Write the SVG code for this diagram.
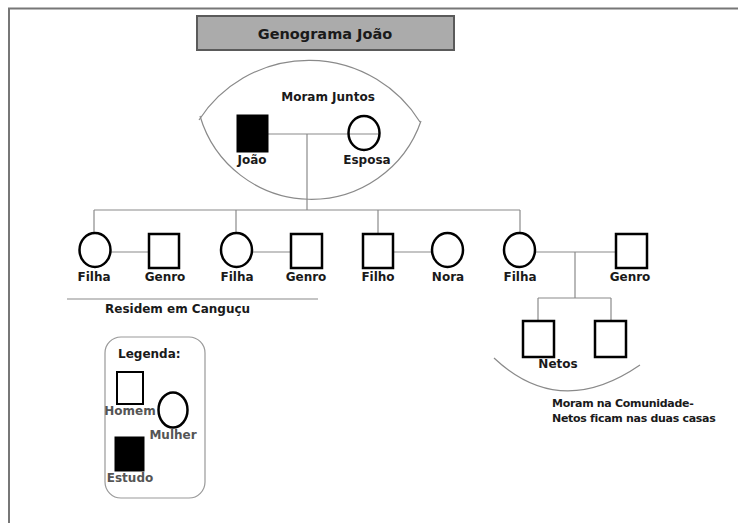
<svg xmlns="http://www.w3.org/2000/svg" width="738" height="523" viewBox="0 0 738 523">
<style>
text{font-family:"DejaVu Sans","Verdana",sans-serif;font-weight:bold;fill:#1a1a1a;font-size:12px}
.lbl{text-anchor:middle}
.leg{fill:#555;text-anchor:middle}
.note{font-size:11px;letter-spacing:-0.3px}
.ln{stroke:#8a8a8a;stroke-width:1.2;fill:none}
.sq{fill:#fff;stroke:#000;stroke-width:2.5}
.ci{fill:#fff;stroke:#000;stroke-width:2.5}
.fill{fill:#000;stroke:#000;stroke-width:1}
</style>
<rect width="738" height="523" fill="#fff"/>
<path d="M9 523 V8.5 H738" fill="none" stroke="#777" stroke-width="2"/>
<g id="title">
<rect x="197" y="16" width="257" height="34" fill="#ababab" stroke="#5a5a5a" stroke-width="2"/>
<text x="325" y="39" text-anchor="middle" style="font-size:14.5px">Genograma João</text>
</g>
<g id="connectors">
<path class="ln" d="M199 120 A131 131 0 0 1 420 122"/>
<path class="ln" d="M200 116 A116 116 0 0 0 421 121"/>
<line class="ln" x1="266" y1="134" x2="378" y2="134"/>
<line class="ln" x1="307" y1="134" x2="307" y2="210"/>
<line class="ln" x1="94" y1="210" x2="520" y2="210"/>
<line class="ln" x1="94" y1="210" x2="94" y2="233"/>
<line class="ln" x1="236" y1="210" x2="236" y2="233"/>
<line class="ln" x1="378" y1="210" x2="378" y2="233"/>
<line class="ln" x1="520" y1="210" x2="520" y2="233"/>
<line class="ln" x1="111" y1="252" x2="149" y2="252"/>
<line class="ln" x1="252" y1="252" x2="291" y2="252"/>
<line class="ln" x1="393" y1="252" x2="432" y2="252"/>
<line class="ln" x1="535" y1="252" x2="616" y2="252"/>
<line class="ln" x1="575" y1="252" x2="575" y2="298"/>
<line class="ln" x1="538" y1="298" x2="611" y2="298"/>
<line class="ln" x1="538" y1="298" x2="538" y2="321"/>
<line class="ln" x1="611" y1="298" x2="611" y2="321"/>
<line class="ln" x1="67" y1="299" x2="318" y2="299"/>
<path class="ln" d="M494 358 Q560 420 640 365"/>
</g>
<text x="328" y="101" text-anchor="middle">Moram Juntos</text>
<g id="joao">
<rect class="fill" x="237" y="115" width="31" height="37"/>
<text class="lbl" x="252" y="164">João</text>
</g>
<g id="esposa">
<ellipse class="ci" cx="364" cy="133" rx="15.5" ry="17" style="fill:none"/>
<text class="lbl" x="367" y="164">Esposa</text>
</g>
<g id="filha1">
<ellipse class="ci" cx="95" cy="250" rx="15.5" ry="17"/>
<text class="lbl" x="94" y="281">Filha</text>
</g>
<g id="genro1">
<rect class="sq" x="149" y="234" width="30" height="34"/>
<text class="lbl" x="165" y="281">Genro</text>
</g>
<g id="filha2">
<ellipse class="ci" cx="236.5" cy="250" rx="15.5" ry="17"/>
<text class="lbl" x="237" y="281">Filha</text>
</g>
<g id="genro2">
<rect class="sq" x="291" y="234" width="31" height="34"/>
<text class="lbl" x="306" y="281">Genro</text>
</g>
<g id="filho">
<rect class="sq" x="363" y="234" width="30" height="34"/>
<text class="lbl" x="378" y="281">Filho</text>
</g>
<g id="nora">
<ellipse class="ci" cx="447.5" cy="250" rx="15.5" ry="17"/>
<text class="lbl" x="448" y="281">Nora</text>
</g>
<g id="filha4">
<ellipse class="ci" cx="519.5" cy="250" rx="15.5" ry="17"/>
<text class="lbl" x="520" y="281">Filha</text>
</g>
<g id="genro4">
<rect class="sq" x="616" y="234" width="31" height="34"/>
<text class="lbl" x="630" y="281">Genro</text>
</g>
<g id="neto1">
<rect class="sq" x="523" y="321" width="31" height="36"/>
</g>
<g id="neto2">
<rect class="sq" x="595" y="321" width="31" height="36"/>
</g>
<text class="lbl" x="558" y="368">Netos</text>
<text x="105" y="313">Residem em Canguçu</text>
<text class="note" x="552" y="407">Moram na Comunidade-</text>
<text class="note" x="552" y="422">Netos ficam nas duas casas</text>
<g id="legenda">
<rect x="105" y="337" width="100" height="161" rx="16" fill="#fff" stroke="#999" stroke-width="1.2"/>
<text x="118" y="358">Legenda:</text>
<rect class="sq" x="117" y="372" width="26" height="32" style="stroke-width:2"/>
<text class="leg" x="130" y="415">Homem</text>
<ellipse class="ci" cx="173" cy="410" rx="14.5" ry="17.5"/>
<text class="leg" x="173" y="439">Mulher</text>
<rect class="fill" x="115" y="437" width="29" height="34"/>
<text class="leg" x="130" y="482">Estudo</text>
</g>
</svg>
